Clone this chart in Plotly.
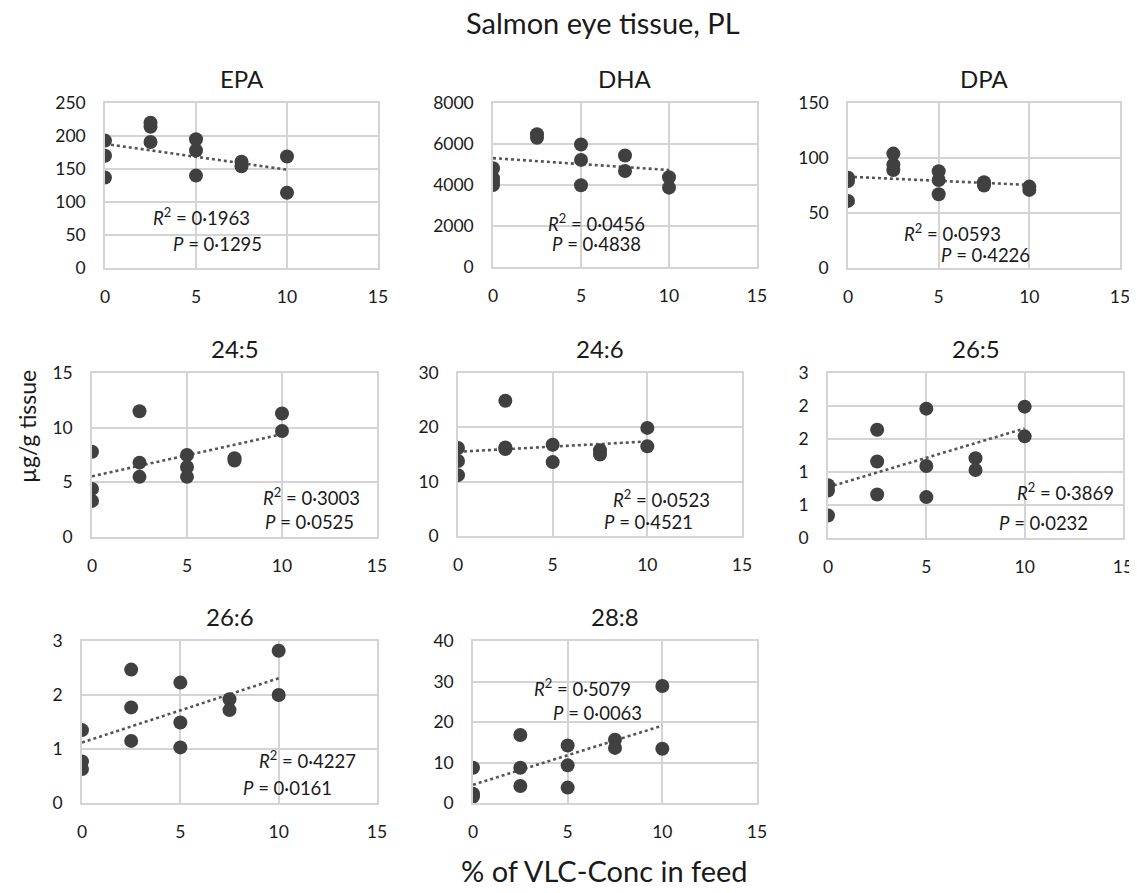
import plotly.graph_objects as go

# ---------------- data ----------------
panel_names = ["EPA", "DHA", "DPA", "24:5", "24:6", "26:5", "26:6", "28:8"]

epa_x = [0, 0, 0, 2.5, 2.5, 2.5, 5, 5, 5, 7.5, 7.5, 10, 10]
epa_y = [193, 170, 137, 220, 214, 191, 195, 178, 140, 161, 154, 169, 114]

dha_x = [0, 0, 0, 0, 2.5, 2.5, 5, 5, 5, 7.5, 7.5, 10, 10]
dha_y = [4820, 4330, 4150, 4000, 6480, 6300, 5975, 5224, 3990, 5437, 4680, 4375, 3870]

dpa_x = [0, 0, 0, 2.5, 2.5, 2.5, 5, 5, 5, 7.5, 7.5, 10, 10]
dpa_y = [82, 79, 61, 104, 94, 89, 88, 80, 67, 78, 75, 74, 71]

c245_x = [0, 0, 0, 2.5, 2.5, 2.5, 5, 5, 5, 7.5, 7.5, 10, 10]
c245_y = [7.8, 4.4, 3.3, 11.5, 6.8, 5.5, 7.5, 6.4, 5.5, 7.2, 7.0, 11.3, 9.7]

c246_x = [0, 0, 0, 2.5, 2.5, 2.5, 5, 5, 7.5, 7.5, 10, 10]
c246_y = [16.2, 13.8, 11.2, 24.9, 16.3, 16.0, 16.8, 13.6, 15.8, 15.0, 19.9, 16.5]

c265_x = [0, 0, 0, 2.5, 2.5, 2.5, 5, 5, 5, 7.5, 7.5, 10, 10]
c265_y = [0.80, 0.72, 0.34, 1.64, 1.16, 0.66, 1.96, 1.09, 0.62, 1.21, 1.03, 1.99, 1.54]

c266_x = [0, 0, 0, 2.5, 2.5, 2.5, 5, 5, 5, 7.5, 7.5, 10, 10]
c266_y = [1.35, 0.77, 0.63, 2.47, 1.77, 1.15, 2.23, 1.49, 1.03, 1.92, 1.72, 2.82, 2.00]

c288_x = [0, 0, 0, 2.5, 2.5, 2.5, 5, 5, 5, 7.5, 7.5, 10, 10]
c288_y = [8.7, 2.3, 1.6, 16.8, 8.7, 4.2, 14.2, 9.3, 3.8, 15.6, 13.6, 28.9, 13.4]

xs = [epa_x, dha_x, dpa_x, c245_x, c246_x, c265_x, c266_x, c288_x]
ys = [epa_y, dha_y, dpa_y, c245_y, c246_y, c265_y, c266_y, c288_y]

# trend line values at x=0 and x=10
trend_x = [0, 10]
trend_start = [188, 5310, 83, 5.55, 15.5, 0.77, 1.12, 4.5]
trend_end = [149, 4730, 75.5, 9.4, 17.4, 1.66, 2.31, 19.1]

r2_text = ["0·1963", "0·0456", "0·0593", "0·3003", "0·0523", "0·3869", "0·4227", "0·5079"]
p_text = ["0·1295", "0·4838", "0·4226", "0·0525", "0·4521", "0·0232", "0·0161", "0·0063"]

y_max = [250, 8000, 150, 15, 30, 2.5, 3, 40]
y_step = [50, 2000, 50, 5, 10, 0.5, 1, 10]
x_ticks = [0, 5, 10, 15]

# ---------------- layout (pixels of the 1137x893 page) ----------------
OFF = 8                      # default page body margin
W, H = 1137 - OFF, 893 - 2 * OFF


def px(xp):
    return (xp - OFF) / W


def py(yp):
    return 1 - (yp - OFF) / H


boxes = [  # left, right, top, bottom (page px)
    (105, 378, 103, 268),
    (493, 757, 103, 267),
    (848, 1120, 103, 268),
    (92, 377, 373, 537),
    (458, 742, 373, 536),
    (828, 1123, 373, 538),
    (82, 377, 641, 803),
    (473, 757, 641, 803),
]
# annotation anchors (data coords, left aligned)
r2_pos = [(2.5, 78), (3.0, 2180), (3.0, 32), (8.9, 3.7), (8.1, 6.9), (9.5, 0.70), (8.9, 0.80), (3.1, 28.5)]
p_pos = [(3.6, 36), (3.25, 1130), (5.0, 12), (9.0, 1.4), (7.6, 2.6), (8.6, 0.23), (8.1, 0.27), (4.1, 22.3)]

FONT = "Lato, Carlito, Calibri, 'Open Sans', sans-serif"
GRID = "#d4d4d4"
MARK = "#404040"
TXT = "#1a1a1a"

fig = go.Figure()
annotations = []

for i, name in enumerate(panel_names):
    k = i + 1
    xa = "x" if k == 1 else f"x{k}"
    ya = "y" if k == 1 else f"y{k}"
    l, r, t, b = boxes[i]
    fig.add_trace(go.Scatter(
        x=trend_x, y=[trend_start[i], trend_end[i]], mode="lines",
        line=dict(color="#555555", width=2.6, dash="dot"),
        xaxis=xa, yaxis=ya, showlegend=False, hoverinfo="skip"))
    fig.add_trace(go.Scatter(
        x=xs[i], y=ys[i], mode="markers",
        marker=dict(color=MARK, size=14, line=dict(width=0)),
        xaxis=xa, yaxis=ya, showlegend=False))

    nt = int(round(y_max[i] / y_step[i]))
    tv = [round(j * y_step[i], 6) for j in range(nt + 1)]
    if name == "26:5":
        tt = [str(int(v + 0.5)) for v in tv]  # Excel-style rounded labels
    else:
        tt = [f"{v:g}" for v in tv]

    xkey = "xaxis" if k == 1 else f"xaxis{k}"
    ykey = "yaxis" if k == 1 else f"yaxis{k}"
    fig.update_layout(**{
        xkey: dict(domain=[px(l), px(r)], anchor=ya, range=[0, 15],
                   tickvals=x_ticks, ticktext=[str(v) for v in x_ticks],
                   showgrid=True, gridcolor=GRID, gridwidth=1.5,
                   showline=True, linecolor=GRID, linewidth=1.5, mirror=True,
                   zeroline=False, ticks="outside", ticklen=12, tickcolor="rgba(0,0,0,0)",
                   ticklabeloverflow="allow",
                   tickfont=dict(family=FONT, size=17.5, color=TXT),
                   automargin=False, fixedrange=True),
        ykey: dict(domain=[py(b), py(t)], anchor=xa, range=[0, y_max[i]],
                   tickvals=tv, ticktext=tt,
                   showgrid=True, gridcolor=GRID, gridwidth=1.5,
                   showline=True, linecolor=GRID, linewidth=1.5, mirror=True,
                   zeroline=False, ticks="outside", ticklen=14, tickcolor="rgba(0,0,0,0)",
                   ticklabeloverflow="allow",
                   tickfont=dict(family=FONT, size=17.5, color=TXT),
                   automargin=False, fixedrange=True),
    })

    # panel title
    annotations.append(dict(
        text=name, xref="paper", yref="paper",
        x=px((l + r) / 2), y=py(t - 8), xanchor="center", yanchor="bottom",
        showarrow=False, font=dict(family=FONT, size=24, color=TXT)))
    # R2 and P
    annotations.append(dict(
        text=f"<i>R</i><sup>2</sup> = {r2_text[i]}", xref=xa, yref=ya,
        x=r2_pos[i][0], y=r2_pos[i][1], xanchor="left", yanchor="middle",
        showarrow=False, font=dict(family=FONT, size=18.5, color=TXT)))
    annotations.append(dict(
        text=f"<i>P</i> = {p_text[i]}", xref=xa, yref=ya,
        x=p_pos[i][0], y=p_pos[i][1], xanchor="left", yanchor="middle",
        showarrow=False, font=dict(family=FONT, size=18.5, color=TXT)))

annotations.append(dict(
    text="Salmon eye tissue, PL", xref="paper", yref="paper",
    x=px(603), y=py(22), xanchor="center", yanchor="middle",
    showarrow=False, font=dict(family=FONT, size=29, color=TXT)))
annotations.append(dict(
    text="µg/g tissue", xref="paper", yref="paper",
    x=px(27), y=py(427), xanchor="center", yanchor="middle", textangle=-90,
    showarrow=False, font=dict(family=FONT, size=23, color=TXT)))
annotations.append(dict(
    text="% of VLC-Conc in feed", xref="paper", yref="paper",
    x=px(604), y=py(870), xanchor="center", yanchor="middle",
    showarrow=False, font=dict(family=FONT, size=29, color=TXT)))

fig.update_layout(
    width=W, height=H, autosize=False,
    margin=dict(l=0, r=0, t=0, b=0, pad=0, autoexpand=False),
    paper_bgcolor="white", plot_bgcolor="white",
    annotations=annotations, showlegend=False,
)

fig.write_html("out.html", config={"displayModeBar": False})
